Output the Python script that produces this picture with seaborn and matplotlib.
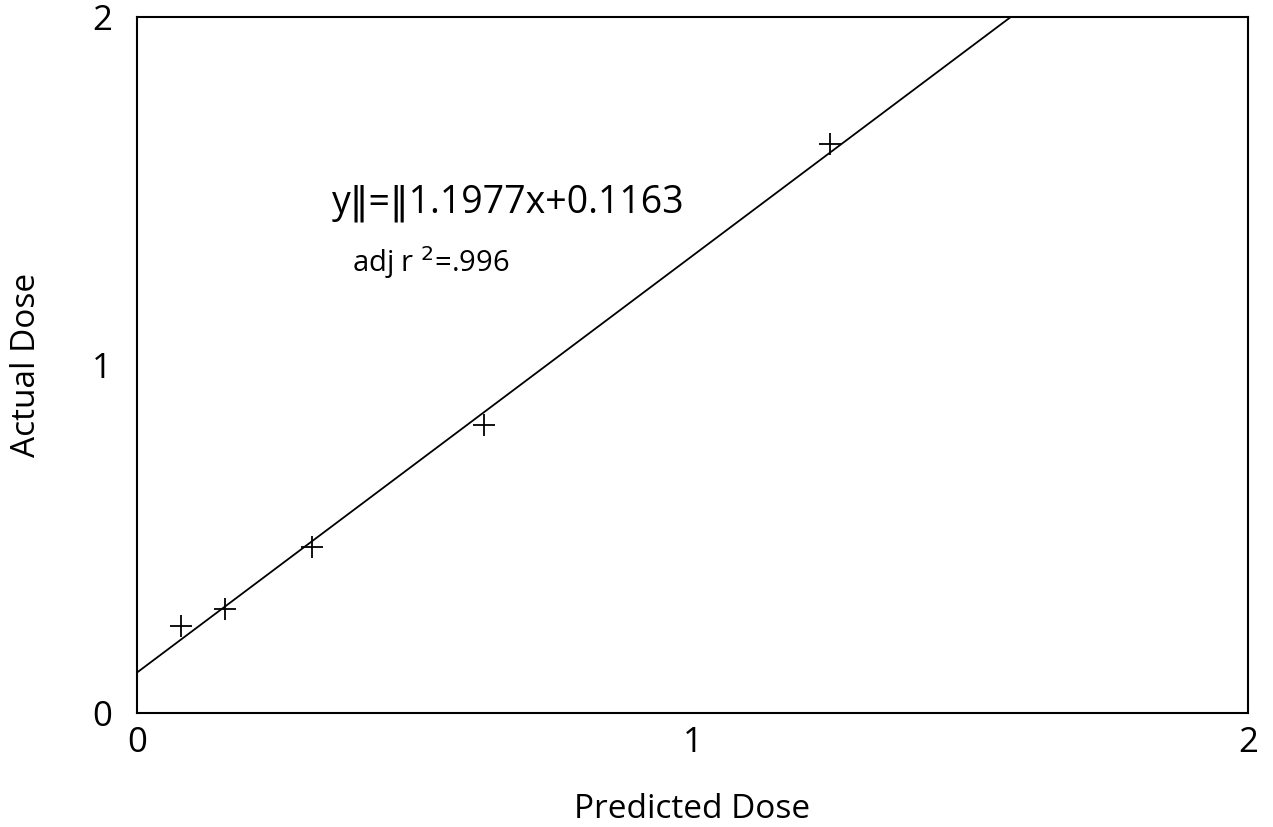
import matplotlib
matplotlib.use("Agg")
import matplotlib.pyplot as plt
import seaborn as sns
import numpy as np
import pandas as pd

predicted = [0.079, 0.158, 0.315, 0.625, 1.248]
actual = [0.25, 0.299, 0.477, 0.828, 1.635]
slope = 1.1977
intercept = 0.1163
ticks = [0, 1, 2]

sns.set_theme(style="white")
plt.rcParams['font.family'] = ['Open Sans', 'DejaVu Sans']

fig = plt.figure(figsize=(12.73, 8.27), dpi=100)
ax = fig.add_axes([0.1076, 0.1378, 0.8728, 0.8416])

df = pd.DataFrame({"Predicted Dose": predicted, "Actual Dose": actual})
sns.scatterplot(data=df, x="Predicted Dose", y="Actual Dose", marker="+",
                s=260, color="black", linewidth=1.3, ax=ax, zorder=3)

xs = np.array([0.0, 2.0])
fit = pd.DataFrame({"x": xs, "y": slope * xs + intercept})
sns.lineplot(data=fit, x="x", y="y", color="black", linewidth=1.3, ax=ax)

ax.set_xlim(0, 2)
ax.set_ylim(0, 2)
ax.set_xticks(ticks)
ax.set_yticks(ticks)
ax.set_xticklabels([str(t) for t in ticks])
ax.set_yticklabels([str(t) for t in ticks])
ax.tick_params(direction="in", length=11, width=1.3, color="black",
               labelsize=25, labelcolor="black")
ax.tick_params(axis="x", pad=9)
ax.tick_params(axis="y", pad=18)
for s in ax.spines.values():
    s.set_color("black")
    s.set_linewidth(1.5)

ax.set_xlabel("Predicted Dose", fontsize=24, color="black", labelpad=24)
ax.set_ylabel("Actual Dose", fontsize=24, color="black", labelpad=35)

ax.text(332, 827 - 212, "y‖=‖1.1977x+0.1163", transform=None, fontsize=27, color="black")
ax.text(352, 827 - 272, "adj r $^{2}$=.996", transform=None, fontsize=21, color="black")

fig.savefig("out.png", dpi=100)
